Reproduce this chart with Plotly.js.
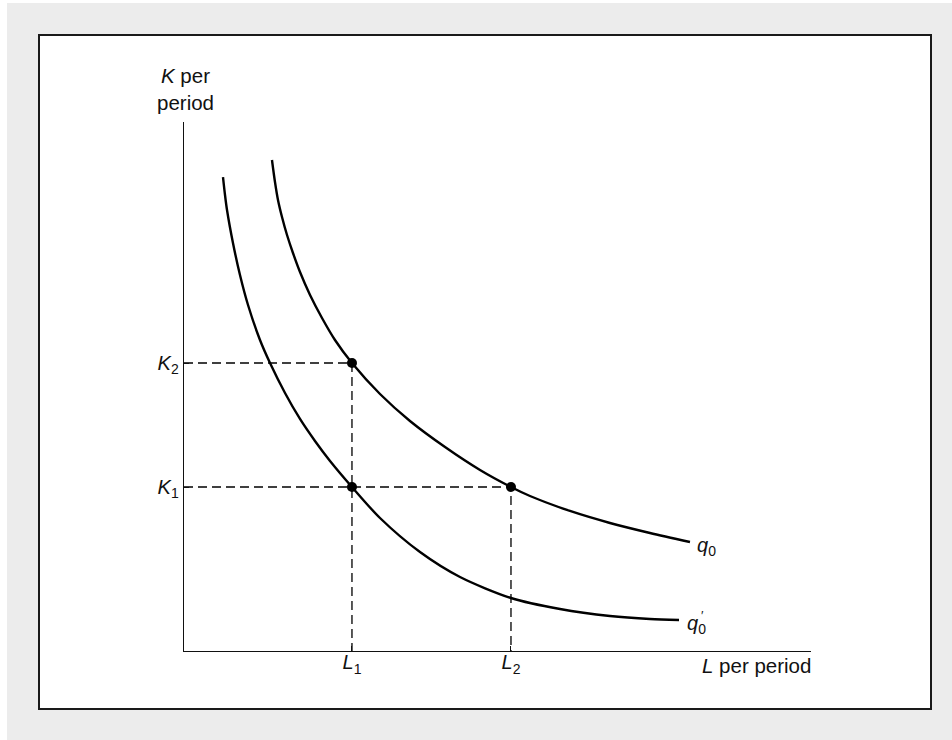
<!DOCTYPE html>
<html>
<head>
<meta charset="utf-8">
<script src="https://cdn.plot.ly/plotly-3.0.1.min.js"></script>
<style>html,body{margin:0;padding:0;background:#fff;}#chart{width:952px;height:740px;}</style>
</head>
<body>
<div id="chart"></div>
<script>
// Isoquant q0 (outer curve)
var q0L = [1.403, 1.451, 1.499, 1.563, 1.643, 1.738, 1.850, 2.010, 2.201, 2.408, 2.679, 3.126, 3.604, 4.163, 4.721, 5.215, 5.518, 6.156, 6.794, 7.432, 8.070];
var q0K = [9.282, 8.866, 8.526, 8.204, 7.864, 7.524, 7.164, 6.730, 6.295, 5.879, 5.444, 4.858, 4.348, 3.856, 3.422, 3.100, 2.930, 2.647, 2.420, 2.231, 2.060];
// Isoquant q0' (inner curve)
var q1L = [0.622, 0.654, 0.686, 0.781, 0.893, 1.021, 1.212, 1.372, 1.611, 1.850, 2.089, 2.329, 2.679, 3.126, 3.764, 4.402, 5.215, 5.997, 6.794, 7.432, 7.895];
var q1K = [8.960, 8.620, 8.336, 7.713, 7.108, 6.541, 5.879, 5.444, 4.877, 4.386, 3.970, 3.592, 3.100, 2.514, 1.871, 1.399, 1.002, 0.794, 0.662, 0.605, 0.586];
// Key levels
var Lvals = [2.679, 5.215];
var Kvals = [3.100, 5.444];
var Lticks = ['<i>L</i><sub>1</sub>', '<i>L</i><sub>2</sub>'];
var Kticks = ['<i>K</i><sub>1</sub>', '<i>K</i><sub>2</sub>'];
// Highlighted points: (L1,K2) on q0, (L1,K1) on q0', (L2,K1) on q0
var ptL = [Lvals[0], Lvals[0], Lvals[1]];
var ptK = [Kvals[1], Kvals[0], Kvals[0]];

var FONT = 'Liberation Sans, Arial, sans-serif';
var dashLine = {color: '#000', width: 1.3, dash: '9px,5px'};

var traces = [
  // dashed guides
  {x: [0, Lvals[0], Lvals[0]], y: [Kvals[1], Kvals[1], 0], mode: 'lines', line: dashLine, hoverinfo: 'skip'},
  {x: [0, Lvals[1], Lvals[1]], y: [Kvals[0], Kvals[0], 0], mode: 'lines', line: dashLine, hoverinfo: 'skip'},
  // curves
  {x: q0L, y: q0K, mode: 'lines', line: {color: '#000', width: 2.4, shape: 'spline', smoothing: 0.8}},
  {x: q1L, y: q1K, mode: 'lines', line: {color: '#000', width: 2.4, shape: 'spline', smoothing: 0.8}},
  // points
  {x: ptL, y: ptK, mode: 'markers', marker: {color: '#000', size: 10}}
];

var pxX = function(px){ return (px - 184) / 627; };
var pxY = function(py){ return (651 - py) / 529; };

var layout = {
  width: 952, height: 740,
  margin: {l: 184, r: 141, t: 122, b: 89},
  paper_bgcolor: '#ffffff',
  plot_bgcolor: 'rgba(0,0,0,0)',
  showlegend: false,
  font: {family: FONT, color: '#111', size: 20},
  xaxis: {
    range: [0, 10], showgrid: false, zeroline: false,
    showline: true, linecolor: '#111', linewidth: 1.3,
    tickmode: 'array', tickvals: Lvals, ticktext: Lticks,
    ticks: 'inside', ticklen: 5, tickwidth: 1, tickcolor: '#111',
    ticklabelstandoff: -7,
    tickfont: {family: FONT, size: 20, color: '#111'}, fixedrange: true
  },
  yaxis: {
    range: [0, 10], showgrid: false, zeroline: false,
    showline: true, linecolor: '#111', linewidth: 1.3,
    tickmode: 'array', tickvals: Kvals, ticktext: Kticks,
    ticks: 'inside', ticklen: 5, tickwidth: 1, tickcolor: '#111',
    tickfont: {family: FONT, size: 20, color: '#111'}, fixedrange: true
  },
  shapes: [
    {type: 'rect', xref: 'paper', yref: 'paper', layer: 'below',
     x0: pxX(7), x1: pxX(960), y0: pxY(748), y1: pxY(3),
     fillcolor: '#ececec', line: {width: 0}},
    {type: 'rect', xref: 'paper', yref: 'paper', layer: 'below',
     x0: pxX(39), x1: pxX(931), y0: pxY(709), y1: pxY(35),
     fillcolor: '#ffffff', line: {color: '#1a1a1a', width: 2}}
  ],
  annotations: [
    {xref: 'paper', yref: 'paper', x: pxX(185), y: pxY(116), xanchor: 'center', yanchor: 'bottom',
     text: '<i>K</i> per<br>period', showarrow: false, align: 'center', font: {family: FONT, size: 20.5, color: '#111'}},
    {xref: 'paper', yref: 'paper', x: pxX(813), y: pxY(665), xanchor: 'right', yanchor: 'middle',
     text: '<i>L</i> per period', showarrow: false, font: {family: FONT, size: 20.5, color: '#111'}},
    {xref: 'x', yref: 'y', x: q0L[q0L.length-1], y: q0K[q0K.length-1], xanchor: 'left', yanchor: 'middle',
     xshift: 5, yshift: -4, text: '<i>q</i><sub>0</sub>', showarrow: false, font: {family: FONT, size: 20, color: '#111'}},
    {xref: 'x', yref: 'y', x: q1L[q1L.length-1], y: q1K[q1K.length-1], xanchor: 'left', yanchor: 'middle',
     xshift: 6, yshift: -4, text: '<i>q</i><sub>0</sub>', showarrow: false, font: {family: FONT, size: 20, color: '#111'}},
    {xref: 'x', yref: 'y', x: q1L[q1L.length-1], y: q1K[q1K.length-1], xanchor: 'left', yanchor: 'middle',
     xshift: 20, yshift: 5, text: '′', showarrow: false, font: {family: FONT, size: 13, color: '#111'}}
  ]
};

Plotly.newPlot('chart', traces, layout, {displayModeBar: false, staticPlot: true});
</script>
</body>
</html>
